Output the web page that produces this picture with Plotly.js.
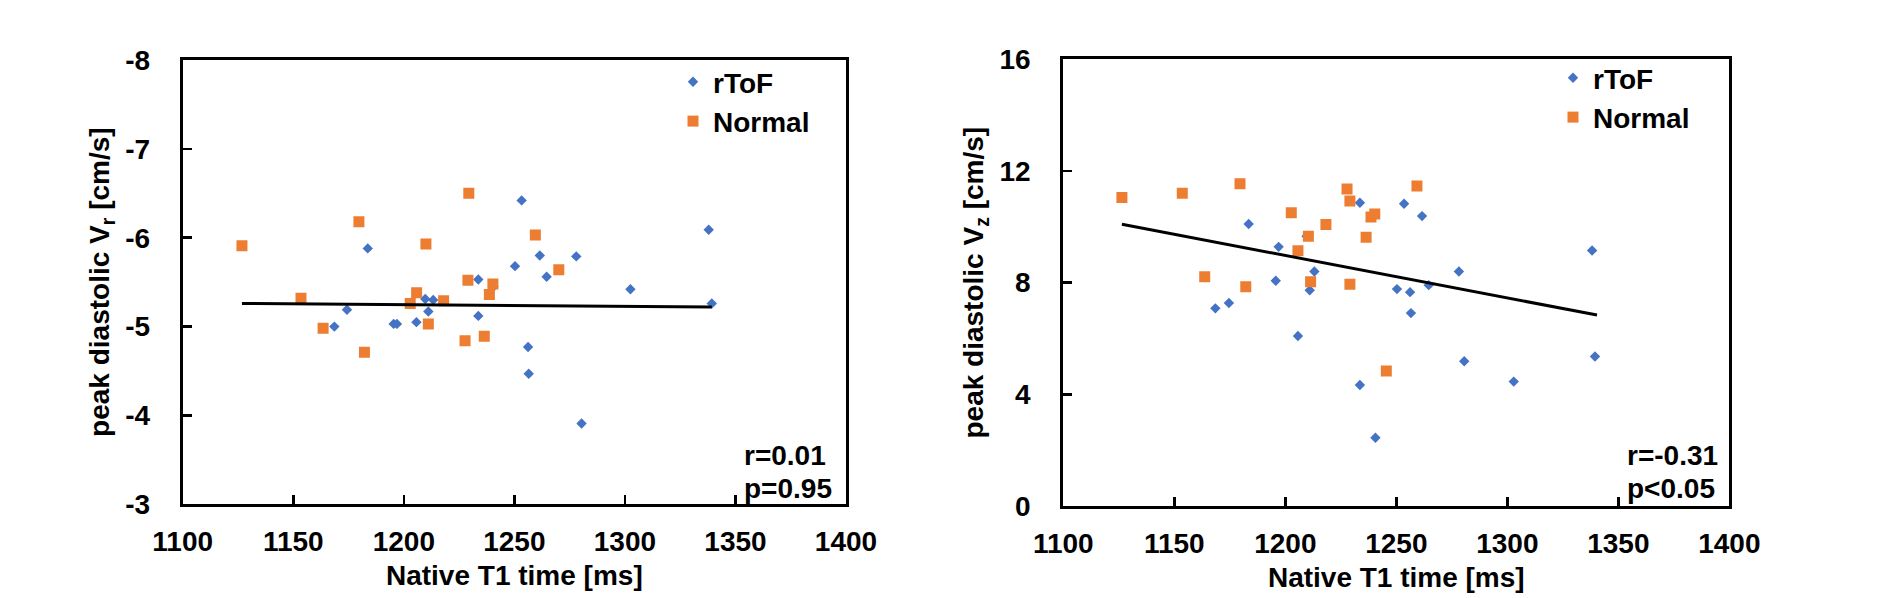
<!DOCTYPE html>
<html>
<head>
<meta charset="utf-8">
<script src="https://cdn.plot.ly/plotly-3.0.1.min.js"></script>
<style>
html,body{margin:0;padding:0;background:#fff;}
#chart{width:1901px;height:598px;}
</style>
</head>
<body>
<div id="chart"></div>
<script>
// ---- Left panel: peak diastolic Vr ----
const leftRtofX = [1168.6, 1174.3, 1183.7, 1195.4, 1196.9, 1205.7, 1209.7, 1211.1, 1213.3, 1233.7, 1233.7, 1240.6, 1250.3, 1253.3, 1256.2, 1256.5, 1261.5, 1264.6, 1278.0, 1280.4, 1302.5, 1337.9, 1339.3];
const leftRtofY = [-5.00, -5.19, -5.88, -5.03, -5.03, -5.05, -5.31, -5.17, -5.30, -5.53, -5.12, -5.45, -5.68, -6.42, -4.77, -4.47, -5.80, -5.56, -5.79, -3.91, -5.42, -6.09, -5.26];
const leftNormX = [1126.8, 1153.5, 1163.5, 1179.7, 1182.2, 1202.9, 1205.8, 1210.0, 1211.1, 1218.0, 1227.7, 1229.4, 1229.0, 1236.4, 1238.7, 1240.3, 1259.5, 1270.1];
const leftNormY = [-5.91, -5.32, -4.98, -6.18, -4.71, -5.26, -5.38, -5.93, -5.03, -5.29, -4.84, -6.50, -5.52, -4.89, -5.36, -5.48, -6.03, -5.64];
const leftTrendX = [1126.8, 1339.3];
const leftTrendY = [-5.26, -5.22];
const leftYTicks = [-8, -7, -6, -5, -4, -3];
const leftYLabels = ["-8", "-7", "-6", "-5", "-4", "-3"];
const leftStats = ["r=0.01", "p=0.95"];

// ---- Right panel: peak diastolic Vz ----
const rightRtofX = [1168.5, 1174.6, 1183.5, 1195.7, 1197.0, 1205.7, 1209.6, 1211.0, 1213.1, 1233.6, 1233.6, 1240.6, 1250.3, 1253.5, 1256.2, 1256.6, 1261.6, 1264.6, 1278.2, 1280.6, 1302.9, 1338.2, 1339.5];
const rightRtofY = [7.08, 7.27, 10.10, 8.07, 9.28, 6.09, 9.66, 7.73, 8.40, 10.86, 4.34, 2.45, 7.77, 10.82, 7.66, 6.91, 10.38, 7.91, 8.40, 5.19, 4.46, 9.15, 5.36];
const rightNormX = [1126.4, 1153.6, 1163.7, 1179.6, 1182.2, 1202.7, 1205.7, 1210.4, 1211.4, 1218.3, 1227.8, 1229.1, 1229.1, 1236.4, 1238.6, 1240.3, 1245.5, 1259.3];
const rightNormY = [11.05, 11.20, 8.21, 11.54, 7.85, 10.50, 9.14, 9.66, 8.03, 10.08, 11.35, 10.92, 7.94, 9.62, 10.35, 10.46, 4.84, 11.46];
const rightTrendX = [1126.4, 1340.4];
const rightTrendY = [10.09, 6.84];
const rightYTicks = [0, 4, 8, 12, 16];
const rightYLabels = ["0", "4", "8", "12", "16"];
const rightStats = ["r=-0.31", "p<0.05"];

const xTicks = [1100, 1150, 1200, 1250, 1300, 1350, 1400];
const xLabels = ["1100", "1150", "1200", "1250", "1300", "1350", "1400"];
const seriesNames = ["rToF", "Normal"];
const xTitle = "Native T1 time [ms]";
const leftYTitle = "peak diastolic V<sub>r</sub> [cm/s]";
const rightYTitle = "peak diastolic V<sub>z</sub> [cm/s]";

const BLUE = "#4472C4", ORANGE = "#ED7D31";
const FONT = {family: '"Liberation Sans", Arial, Helvetica, sans-serif', size: 28, color: "#000", weight: "bold"};

function scatter(x, y, name, color, symbol, size, xa, ya, legend) {
  return {x: x, y: y, name: name, type: "scatter", mode: "markers", xaxis: xa, yaxis: ya, legend: legend,
    marker: {color: color, symbol: symbol, size: size, line: {width: 0}}, hoverinfo: "x+y"};
}
function trend(x, y, xa, ya) {
  return {x: x, y: y, type: "scatter", mode: "lines", xaxis: xa, yaxis: ya, showlegend: false,
    line: {color: "#000", width: 3}, hoverinfo: "skip"};
}

const data = [
  scatter(leftRtofX, leftRtofY, seriesNames[0], BLUE, "diamond", 8, "x", "y", "legend"),
  scatter(leftNormX, leftNormY, seriesNames[1], ORANGE, "square", 11, "x", "y", "legend"),
  trend(leftTrendX, leftTrendY, "x", "y"),
  scatter(rightRtofX, rightRtofY, seriesNames[0], BLUE, "diamond", 8, "x2", "y2", "legend2"),
  scatter(rightNormX, rightNormY, seriesNames[1], ORANGE, "square", 11, "x2", "y2", "legend2"),
  trend(rightTrendX, rightTrendY, "x2", "y2")
];

function xAxis(domain, anchor) {
  return {domain: domain, anchor: anchor, range: [1100, 1400], tickvals: xTicks, ticktext: xLabels,
    showline: true, mirror: true, linecolor: "#000", linewidth: 3, showgrid: false, zeroline: false,
    ticks: "inside", ticklen: 9, tickwidth: 2.5, tickcolor: "#000", tickfont: FONT, ticklabelstandoff: 10,
    title: {text: xTitle, font: FONT, standoff: 10}, automargin: false};
}
function yAxis(domain, anchor, range, vals, labels, title) {
  return {domain: domain, anchor: anchor, range: range, tickvals: vals, ticktext: labels,
    showline: true, mirror: true, linecolor: "#000", linewidth: 3, showgrid: false, zeroline: false,
    ticks: "inside", ticklen: 9, tickwidth: 2.5, tickcolor: "#000", tickfont: FONT, ticklabelstandoff: 24,
    title: {text: title, font: FONT, standoff: 8}, automargin: false};
}

const W = 1901, H = 598;
const layout = {
  width: W, height: H,
  margin: {l: 0, r: 0, t: 0, b: 0},
  paper_bgcolor: "#fff", plot_bgcolor: "#fff",
  font: FONT,
  xaxis: xAxis([182.7 / W, 846 / W], "y"),
  yaxis: yAxis([1 - 504.3 / H, 1 - 60 / H], "x", [-3, -8], leftYTicks, leftYLabels, leftYTitle),
  xaxis2: xAxis([1063.3 / W, 1729.3 / W], "y2"),
  yaxis2: yAxis([1 - 506.3 / H, 1 - 59 / H], "x2", [0, 16], rightYTicks, rightYLabels, rightYTitle),
  legend: {x: 673 / W, xanchor: "left", y: 1 - 57 / H, yanchor: "top", bgcolor: "rgba(0,0,0,0)",
    font: FONT, borderwidth: 0, tracegroupgap: 0},
  legend2: {x: 1553 / W, xanchor: "left", y: 1 - 53 / H, yanchor: "top", bgcolor: "rgba(0,0,0,0)",
    font: FONT, borderwidth: 0, tracegroupgap: 0},
  showlegend: true,
  annotations: [
    {xref: "paper", yref: "paper", x: 742 / W, y: 1 - 455 / H, xanchor: "left", yanchor: "middle", text: leftStats[0], showarrow: false, font: FONT},
    {xref: "paper", yref: "paper", x: 742 / W, y: 1 - 488.3 / H, xanchor: "left", yanchor: "middle", text: leftStats[1], showarrow: false, font: FONT},
    {xref: "paper", yref: "paper", x: 1625 / W, y: 1 - 455 / H, xanchor: "left", yanchor: "middle", text: rightStats[0], showarrow: false, font: FONT},
    {xref: "paper", yref: "paper", x: 1625 / W, y: 1 - 488.3 / H, xanchor: "left", yanchor: "middle", text: rightStats[1], showarrow: false, font: FONT}
  ]
};

Plotly.newPlot("chart", data, layout, {displayModeBar: false, staticPlot: true});
</script>
</body>
</html>
